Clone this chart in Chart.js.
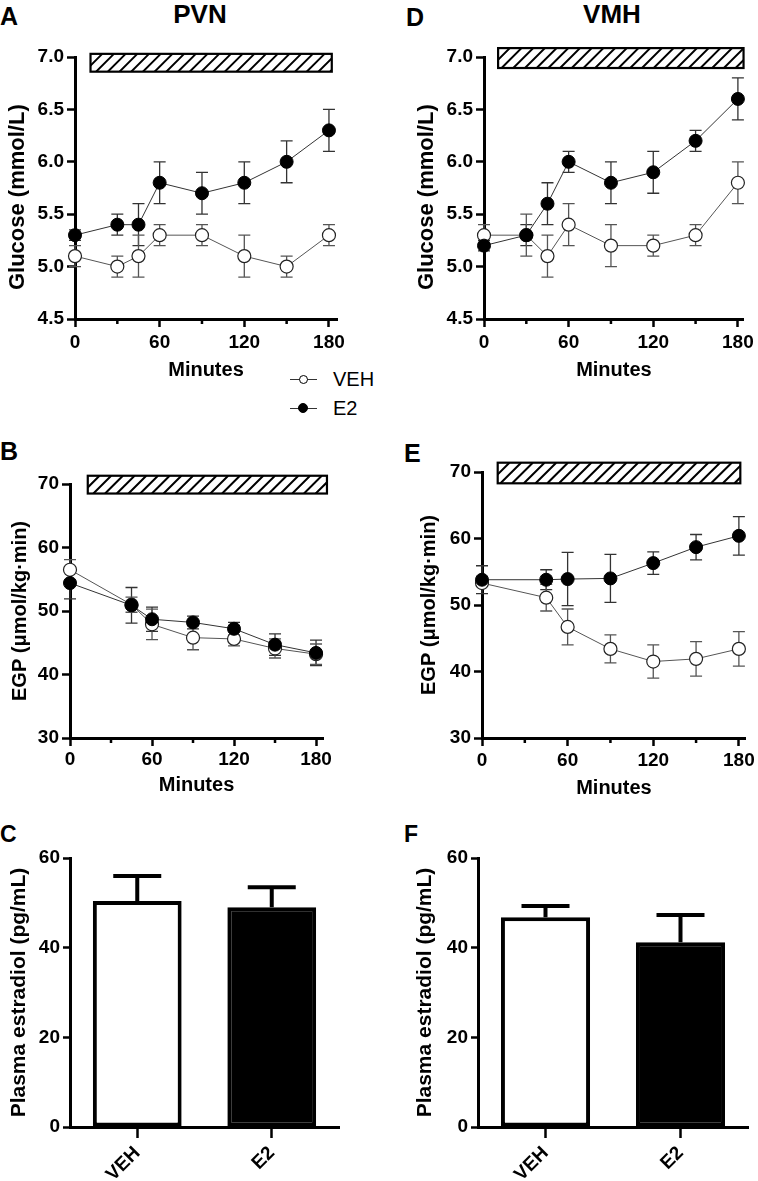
<!DOCTYPE html>
<html>
<head>
<meta charset="utf-8">
<script src="https://cdn.jsdelivr.net/npm/chart.js@4.4.1/dist/chart.umd.min.js"></script>
<style>
    body { margin: 0; background: #fff; }
    #figura { position: relative; width: 758px; height: 1181px; overflow: hidden; font-family: "Liberation Sans", Arial, Helvetica, sans-serif; color: #000; }
    canvas { position: absolute; }
    .letra { position: absolute; font-weight: bold; font-size: 25px; line-height: 25px; }
    .titulo { position: absolute; width: 120px; text-align: center; font-weight: bold; font-size: 26px; line-height: 26px; }
    .legenda { position: absolute; font-size: 20px; line-height: 20px; }
    .linhaLeg { position: absolute; width: 27px; height: 1.3px; background: #333; }
    .bolaLeg { position: absolute; box-sizing: border-box; border: 1.2px solid #000; border-radius: 50%; }
</style>
</head>
<body>
<div id="figura">
    <div class="letra" style="left:0px; top:4px;">A</div>
    <div class="titulo" style="left:140px; top:1px;">PVN</div>
    <div class="letra" style="left:406px; top:5px;">D</div>
    <div class="titulo" style="left:552px; top:1px;">VMH</div>
    <div class="letra" style="left:0px; top:439px;">B</div>
    <div class="letra" style="left:404px; top:441px;">E</div>
    <div class="letra" style="left:0px; top:823px; font-size:23px; line-height:23px;">C</div>
    <div class="letra" style="left:404px; top:823px; font-size:23px; line-height:23px;">F</div>

    <div class="linhaLeg" style="left:290px; top:378.5px;"></div>
    <div class="bolaLeg" style="left:298.5px; top:374.5px; width:9px; height:9px; background:#fff;"></div>
    <div class="legenda" style="left:333px; top:369px;">VEH</div>
    <div class="linhaLeg" style="left:290px; top:407.5px;"></div>
    <div class="bolaLeg" style="left:298px; top:403px; width:10px; height:10px; background:#000;"></div>
    <div class="legenda" style="left:333px; top:398px;">E2</div>

    <canvas id="graficoA" width="360" height="385" style="left:0px; top:0px;"></canvas>
    <canvas id="graficoD" width="379" height="385" style="left:379px; top:0px;"></canvas>
    <canvas id="graficoB" width="360" height="400" style="left:0px; top:400px;"></canvas>
    <canvas id="graficoE" width="379" height="400" style="left:379px; top:400px;"></canvas>
    <canvas id="graficoC" width="360" height="401" style="left:0px; top:780px;"></canvas>
    <canvas id="graficoF" width="379" height="401" style="left:379px; top:780px;"></canvas>
</div>

<script>
/*Dados dos gráficos*/
var minutosGlicose = [0, 30, 45, 60, 90, 120, 150, 180];
var glicosePvnVeh = [5.1, 5.0, 5.1, 5.3, 5.3, 5.1, 5.0, 5.3];
var glicosePvnVehErro = [0.1, 0.1, 0.2, 0.1, 0.1, 0.2, 0.1, 0.1];
var glicosePvnE2 = [5.3, 5.4, 5.4, 5.8, 5.7, 5.8, 6.0, 6.3];
var glicosePvnE2Erro = [0.05, 0.1, 0.2, 0.2, 0.2, 0.2, 0.2, 0.2];
var glicoseVmhVeh = [5.3, 5.3, 5.1, 5.4, 5.2, 5.2, 5.3, 5.8];
var glicoseVmhVehErro = [0.1, 0.2, 0.2, 0.2, 0.2, 0.1, 0.1, 0.2];
var glicoseVmhE2 = [5.2, 5.3, 5.6, 6.0, 5.8, 5.9, 6.2, 6.6];
var glicoseVmhE2Erro = [0.05, 0.1, 0.2, 0.1, 0.2, 0.2, 0.1, 0.2];

var minutosEgp = [0, 45, 60, 90, 120, 150, 180];
var egpPvnVeh = [56.5, 51.0, 47.9, 45.8, 45.6, 44.1, 43.2];
var egpPvnVehErro = [1.6, 1.2, 2.4, 1.9, 1.1, 1.5, 1.6];
var egpPvnE2 = [54.4, 50.9, 48.7, 48.2, 47.2, 44.7, 43.4];
var egpPvnE2Erro = [2.5, 2.8, 1.9, 1.0, 1.0, 1.7, 2.0];
var egpVmhVeh = [53.3, 51.1, 46.7, 43.4, 41.5, 41.9, 43.4];
var egpVmhVehErro = [0.5, 2.0, 2.7, 2.1, 2.5, 2.6, 2.6];
var egpVmhE2 = [53.8, 53.8, 53.9, 54.0, 56.3, 58.7, 60.4];
var egpVmhE2Erro = [2.1, 1.5, 4.0, 3.6, 1.7, 1.9, 2.9];

var grupos = ["VEH", "E2"];
var estradiolPvn = [50.4, 49.0];
var estradiolPvnErro = [5.6, 4.5];
var estradiolVmh = [46.8, 41.2];
var estradiolVmhErro = [2.5, 6.1];

var minutosRotulos = [0, 60, 120, 180];
var minutosMenores = [30, 90, 150];

var fonte = '"Liberation Sans", Arial, Helvetica, sans-serif';
Chart.defaults.font.family = fonte;
Chart.defaults.color = '#000';
Chart.defaults.animation = false;

/*Plugin barras de erro*/
function DesenharErros(chart, opts) {
    var ctx = chart.ctx;
    var ys = chart.scales.y;

    chart.data.datasets.forEach(function (ds, i) {
        if (!ds.erros) return;
        var meta = chart.getDatasetMeta(i);

        meta.data.forEach(function (el, j) {
            var v = ds.data[j];
            if (typeof v === 'object') v = v.y;
            var e = ds.erros[j];
            var x = el.x;
            var yTopo = ys.getPixelForValue(v + e);
            var yBase = opts.soSuperior ? ys.getPixelForValue(v) : ys.getPixelForValue(v - e);

            ctx.save();
            ctx.strokeStyle = ds.corErro || '#000';
            ctx.lineWidth = opts.espessura;
            ctx.beginPath();
            ctx.moveTo(x, yBase);
            ctx.lineTo(x, yTopo);
            ctx.moveTo(x - opts.largura, yTopo);
            ctx.lineTo(x + opts.largura, yTopo);
            if (!opts.soSuperior) {
                ctx.moveTo(x - opts.largura, yBase);
                ctx.lineTo(x + opts.largura, yBase);
            }
            ctx.stroke();
            ctx.restore();
        });
    });
}

var pluginErros = {
    id: 'barrasErro',
    beforeDatasetsDraw: function (chart, args, opts) {
        if (!opts.depois) DesenharErros(chart, opts);
    },
    afterDatasetsDraw: function (chart, args, opts) {
        if (opts.depois) DesenharErros(chart, opts);
    }
};

/*Plugin barra hachurada (período de infusão)*/
var pluginHachura = {
    id: 'hachura',
    afterDraw: function (chart, args, opts) {
        var ctx = chart.ctx;
        var xs = chart.scales.x, ys = chart.scales.y;
        var x0 = xs.getPixelForValue(opts.inicio);
        var x1 = xs.getPixelForValue(opts.fim);
        var y0 = ys.getPixelForValue(opts.topo);
        var y1 = ys.getPixelForValue(opts.base);

        ctx.save();
        ctx.fillStyle = '#fff';
        ctx.fillRect(x0, y0, x1 - x0, y1 - y0);
        ctx.beginPath();
        ctx.rect(x0, y0, x1 - x0, y1 - y0);
        ctx.clip();
        ctx.strokeStyle = '#000';
        ctx.lineWidth = 2;
        ctx.beginPath();
        var alt = y1 - y0;
        for (var x = x0 - alt; x < x1 + alt; x += 11.7) {
            ctx.moveTo(x, y1);
            ctx.lineTo(x + alt, y0);
        }
        ctx.stroke();
        ctx.restore();

        ctx.save();
        ctx.strokeStyle = '#000';
        ctx.lineWidth = 2.2;
        ctx.strokeRect(x0, y0, x1 - x0, y1 - y0);
        ctx.restore();
    }
};

/*Plugin marcas menores do eixo x*/
var pluginMarcasMenores = {
    id: 'marcasMenores',
    afterDraw: function (chart, args, opts) {
        var ctx = chart.ctx;
        var xs = chart.scales.x;
        ctx.save();
        ctx.strokeStyle = '#000';
        ctx.lineWidth = 2.5;
        ctx.beginPath();
        minutosMenores.forEach(function (v) {
            var px = xs.getPixelForValue(v);
            ctx.moveTo(px, xs.top);
            ctx.lineTo(px, xs.top + 5);
        });
        ctx.stroke();
        ctx.restore();
    }
};

function MontarPontos(minutos, valores) {
    return minutos.map(function (m, i) { return { x: m, y: valores[i] }; });
}

/*Construção dos gráficos de linha*/
function CriarGraficoLinha(id, minutos, veh, vehErro, e2, e2Erro, eixoY, layout, hachura) {
    new Chart(document.getElementById(id), {
        type: 'line',
        data: {
            datasets: [{
                label: 'E2',
                data: MontarPontos(minutos, e2),
                erros: e2Erro,
                corErro: '#333',
                borderColor: '#333',
                borderWidth: 1,
                pointRadius: 6.5,
                pointBackgroundColor: '#000',
                pointBorderColor: '#000',
                pointBorderWidth: 1,
                clip: false
            }, {
                label: 'VEH',
                data: MontarPontos(minutos, veh),
                erros: vehErro,
                corErro: '#555',
                borderColor: '#555',
                borderWidth: 1,
                pointRadius: 6.5,
                pointBackgroundColor: '#fff',
                pointBorderColor: '#222',
                pointBorderWidth: 1.2,
                clip: false
            }]
        },
        options: {
            responsive: false,
            animation: false,
            layout: { padding: layout.padding },
            plugins: {
                legend: { display: false },
                tooltip: { enabled: false },
                barrasErro: { largura: 6, espessura: 1.3, soSuperior: false, depois: false },
                hachura: hachura
            },
            scales: {
                x: {
                    type: 'linear',
                    min: 0,
                    max: layout.xMax,
                    afterBuildTicks: function (s) {
                        s.ticks = minutosRotulos.map(function (v) { return { value: v }; });
                    },
                    afterFit: function (s) { s.height = layout.alturaX; },
                    border: { color: '#000', width: 3 },
                    grid: { drawOnChartArea: false, color: '#000', tickColor: '#000', tickLength: 8, tickWidth: 2.5 },
                    ticks: { font: { size: 19, weight: 'bold' }, padding: layout.padTicksX, color: '#000', maxRotation: 0, autoSkip: false },
                    title: { display: true, text: 'Minutes', color: '#000', font: { size: 20, weight: 'bold' }, padding: { top: 0, bottom: 0 } }
                },
                y: {
                    min: eixoY.min,
                    max: eixoY.max,
                    afterFit: function (s) { s.width = eixoY.largura; },
                    border: { color: '#000', width: 3 },
                    grid: { drawOnChartArea: false, color: '#000', tickColor: '#000', tickLength: 8, tickWidth: 2.5 },
                    ticks: {
                        stepSize: eixoY.passo,
                        padding: 3,
                        color: '#000',
                        font: { size: 19, weight: 'bold' },
                        callback: function (v) { return v.toFixed(eixoY.casas); }
                    },
                    title: { display: true, text: eixoY.titulo, color: '#000', font: { size: eixoY.tamTitulo, weight: 'bold' }, padding: { top: eixoY.padTitulo, bottom: 0 } }
                }
            }
        },
        plugins: [pluginErros, pluginHachura, pluginMarcasMenores]
    });
}

/*Construção dos gráficos de barras*/
function CriarGraficoBarras(id, valores, erros, layout) {
    new Chart(document.getElementById(id), {
        type: 'bar',
        data: {
            labels: grupos,
            datasets: [{
                data: valores,
                erros: erros,
                corErro: '#000',
                backgroundColor: ['#fff', '#000'],
                borderColor: '#000',
                borderWidth: 4,
                borderSkipped: false,
                categoryPercentage: 1,
                barPercentage: 0.66
            }]
        },
        options: {
            responsive: false,
            animation: false,
            layout: { padding: layout.padding },
            plugins: {
                legend: { display: false },
                tooltip: { enabled: false },
                barrasErro: { largura: 24, espessura: 4, soSuperior: true, depois: true }
            },
            scales: {
                x: {
                    afterFit: function (s) { s.height = layout.alturaX; },
                    border: { color: '#000', width: 3 },
                    grid: { drawOnChartArea: false, offset: false, color: '#000', tickColor: '#000', tickLength: 11, tickWidth: 2.5 },
                    ticks: { font: { size: 19, weight: 'bold' }, padding: 4, color: '#000', minRotation: 45, maxRotation: 45 }
                },
                y: {
                    min: 0,
                    max: 60,
                    afterFit: function (s) { s.width = layout.larguraY; },
                    border: { color: '#000', width: 3 },
                    grid: { drawOnChartArea: false, color: '#000', tickColor: '#000', tickLength: 7, tickWidth: 2.5 },
                    ticks: { stepSize: 20, padding: 3, color: '#000', font: { size: 19, weight: 'bold' } },
                    title: { display: true, text: 'Plasma estradiol (pg/mL)', color: '#000', font: { size: 21, weight: 'bold' }, padding: { top: layout.padTitulo, bottom: 0 } }
                }
            }
        },
        plugins: [pluginErros]
    });
}

// espaços no fim empurram o título um pouco para baixo, como no original
var eixoGlicose = { min: 4.5, max: 7.0, passo: 0.5, casas: 1, titulo: 'Glucose (mmol/L)\u00a0\u00a0\u00a0', tamTitulo: 22 };
var eixoEgp = { min: 30, max: 70, passo: 10, casas: 0, titulo: 'EGP (\u03bcmol/kg\u00b7min)', tamTitulo: 20 };

CriarGraficoLinha('graficoA', minutosGlicose, glicosePvnVeh, glicosePvnVehErro, glicosePvnE2, glicosePvnE2Erro,
    Object.assign({}, eixoGlicose, { largura: 75, padTitulo: 5 }),
    { padding: { left: 0, top: 57, right: 23, bottom: 3 }, alturaX: 63, xMax: 185.7, padTicksX: 4 },
    { inicio: 11, fim: 182, topo: 7.03, base: 6.86 });

CriarGraficoLinha('graficoD', minutosGlicose, glicoseVmhVeh, glicoseVmhVehErro, glicoseVmhE2, glicoseVmhE2Erro,
    Object.assign({}, eixoGlicose, { largura: 105, padTitulo: 35 }),
    { padding: { left: 0, top: 57, right: 11, bottom: 3 }, alturaX: 63, xMax: 184.2, padTicksX: 4 },
    { inicio: 10, fim: 184, topo: 7.085, base: 6.895 });

CriarGraficoLinha('graficoB', minutosEgp, egpPvnVeh, egpPvnVehErro, egpPvnE2, egpPvnE2Erro,
    Object.assign({}, eixoEgp, { largura: 70, padTitulo: 8 }),
    { padding: { left: 0, top: 84, right: 37, bottom: 3 }, alturaX: 59, xMax: 185.1, padTicksX: 2 },
    { inicio: 13, fim: 188, topo: 71.3, base: 68.5 });

CriarGraficoLinha('graficoE', minutosEgp, egpVmhVeh, egpVmhVehErro, egpVmhE2, egpVmhE2Erro,
    Object.assign({}, eixoEgp, { largura: 103, padTitulo: 38 }),
    { padding: { left: 0, top: 72, right: 10, bottom: 0 }, alturaX: 62, xMax: 184.9, padTicksX: 3 },
    { inicio: 11, fim: 181, topo: 71.4, base: 68.3 });

CriarGraficoBarras('graficoC', estradiolPvn, estradiolPvnErro,
    { padding: { left: 0, top: 78, right: 21, bottom: 0 }, alturaX: 54, larguraY: 70, padTitulo: 7 });

CriarGraficoBarras('graficoF', estradiolVmh, estradiolVmhErro,
    { padding: { left: 0, top: 78, right: 10, bottom: 0 }, alturaX: 54, larguraY: 99, padTitulo: 34 });
</script>
</body>
</html>
